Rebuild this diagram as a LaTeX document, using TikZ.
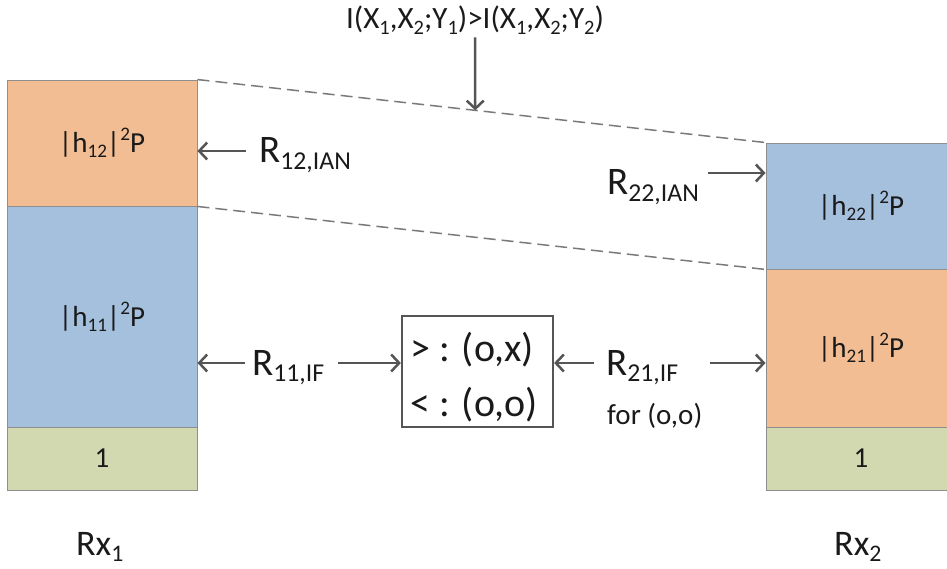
\documentclass[tikz,border=0pt]{standalone}
\usepackage{fontspec}
\setmainfont{Carlito}
\usetikzlibrary{arrows.meta}
\definecolor{cOr}{HTML}{F2BD92}
\definecolor{cBl}{HTML}{A5C0DD}
\definecolor{cGr}{HTML}{D2D9B1}
\definecolor{cLn}{HTML}{555555}
\definecolor{cBd}{HTML}{8E8E8E}
\definecolor{cDs}{HTML}{7A7A7A}
\definecolor{cTx}{HTML}{1A1A1A}
\newcommand\sbs[1]{\raisebox{-0.17em}{\scalebox{0.66}{#1}}}
\newcommand\sps[1]{\raisebox{0.42em}{\scalebox{0.66}{#1}}}
\newcommand\fs[2]{\fontsize{#1}{#2}\selectfont}
\begin{document}
\begin{tikzpicture}[x=1pt,y=-1pt,
 blk/.style={draw=cBd, line width=0.9pt, minimum width=190pt, inner sep=0pt, font=\fs{29pt}{29pt}, text=cTx},
 lbl/.style={inner sep=0pt, font=\fs{39pt}{39pt}, text=cTx, anchor=base west},
 small/.style={inner sep=0pt, font=\fs{29pt}{29pt}, text=cTx, anchor=base west},
 arr/.style={draw=cLn, line width=2.5pt, -{Straight Barb[length=8pt,width=17pt]}},
 dsh/.style={draw=cDs, line width=1.5pt, dash pattern=on 12pt off 6pt},
 boxst/.style={draw=cLn, line width=2.2pt, minimum width=151pt, minimum height=111pt, inner sep=0pt}]
\useasboundingbox (0,0) rectangle (947,569);
\clip (0,0) rectangle (947,569);
% left column
\node[blk, fill=cOr, minimum height=126pt] (a12) at (102,143) {|h\sbs{12}|\sps{2}P};
\node[blk, fill=cBl, minimum height=221pt] (a11) at (102,316.5) {|h\sbs{11}|\sps{2}P};
\node[blk, fill=cGr, minimum height=63pt] (a0) at (102,458.5) {1};
% right column
\node[blk, fill=cBl, minimum height=126pt] (b22) at (861,206) {|h\sbs{22}|\sps{2}P};
\node[blk, fill=cOr, minimum height=158pt] (b21) at (861,348) {|h\sbs{21}|\sps{2}P};
\node[blk, fill=cGr, minimum height=63pt] (b0) at (861,458.5) {1};
% dashed
\draw[dsh] (a12.north east) -- (b22.north west);
\draw[dsh] (a12.south east) -- (b22.south west);
\path (a12.north east) -- (b22.north west) coordinate[pos=0.489] (hit);
% top label
\node[inner sep=0pt, font=\fs{31pt}{31pt}, text=cTx, anchor=base] (top) at (475,29) {I(X\sbs{1},X\sbs{2};Y\sbs{1})>I(X\sbs{1},X\sbs{2};Y\sbs{2})};
\draw[arr] (top.south) ++(0,3) -- (hit);
% R12
\node[lbl] (r12) at (259,163) {R\sbs{12,IAN}};
\coordinate (s12) at (246,151);
\draw[arr] (s12) -- (a12.east |- s12);
% R22
\node[lbl] (r22) at (607,195) {R\sbs{22,IAN}};
\coordinate (s22) at (708,173);
\draw[arr] (s22) -- (b22.west |- s22);
% box
\node[boxst] (bx) at (477.5,371.5) {};
\node[inner sep=0pt, font=\fs{40pt}{40pt}, text=cTx, anchor=base west] (bx1) at (410,361) {> : (o,x)};
\node[inner sep=0pt, font=\fs{40pt}{40pt}, text=cTx, anchor=base west] (bx2) at (410,416) {< : (o,o)};
% R11
\node[lbl] (r11) at (252,375) {R\sbs{11,IF}};
\coordinate (s11l) at (245,363);
\draw[arr] (s11l) -- (a11.east |- s11l);
\coordinate (s11r) at (338,363);
\draw[arr] (s11r) -- (bx.west |- s11r);
% R21
\node[lbl] (r21) at (606,375) {R\sbs{21,IF}};
\coordinate (s21l) at (594,363);
\draw[arr] (s21l) -- (bx.east |- s21l);
\coordinate (s21r) at (710,363);
\draw[arr] (s21r) -- (b21.west |- s21r);
\node[small] (for) at (607,424) {for (o,o)};
% Rx
\node[lbl, font=\fs{36pt}{36pt}] (rx1) at (76,555) {Rx\sbs{1}};
\node[lbl, font=\fs{36pt}{36pt}] (rx2) at (834,555) {Rx\sbs{2}};
\end{tikzpicture}
\end{document}
